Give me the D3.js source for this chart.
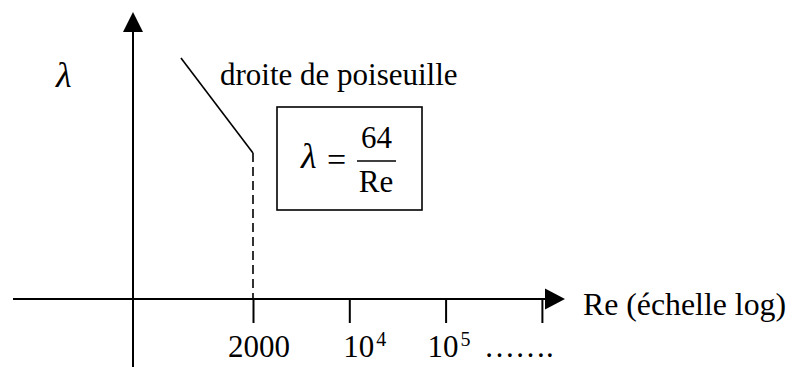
<!DOCTYPE html>
<html>
<head>
<meta charset="utf-8">
<script src="https://cdn.jsdelivr.net/npm/d3@7"></script>
<style>
  body { margin: 0; background: #fff; }
  text { font-family: "Liberation Serif", "Times New Roman", serif; fill: #000; }
</style>
</head>
<body>
<svg id="chart" width="797" height="367"></svg>
<script>
// Reynolds numbers marked on the horizontal (log) axis
const tickValues = [2000, 1e4, 1e5, 1e6];
const tickBases = ["2000", "10", "10", ""];
const tickExponents = ["", "4", "5", ""];
const trailingLabel = "…….";

// Poiseuille (laminar) branch: lambda = 64 / Re, up to the critical Re
const poiseuilleCoef = 64;
const poiseuilleRe = [600, 2000];
const criticalRe = 2000;

// Text
const yLabel = "λ";
const xLabel = "Re (échelle log)";
const lineLabel = "droite de poiseuille";

// ---- layout ----
const svg = d3.select("#chart");
const axisY = 299;
const originX = 133;
const fontSize = 31;
const lambdaSize = 36;
const labelDx = [-25, -6, -18, 0]; // where each tick label starts, relative to its tick

// Equal spacing between the marked Reynolds numbers
const x = d3.scaleLog()
  .domain(tickValues)
  .range(tickValues.map((d, i) => 253 + i * 96.3));

const lambda = re => poiseuilleCoef / re;
const y = d3.scaleLog()
  .domain([lambda(poiseuilleRe[1]), lambda(poiseuilleRe[0])])
  .range([153, 58]);

// Axes lines
svg.append("line")
  .attr("x1", 13).attr("x2", 546)
  .attr("y1", axisY).attr("y2", axisY)
  .attr("stroke", "#000").attr("stroke-width", 2);
svg.append("path")
  .attr("d", `M545,${axisY - 10.5} L565,${axisY} L545,${axisY + 10.5} Z`)
  .attr("fill", "#000");

svg.append("line")
  .attr("x1", originX).attr("x2", originX)
  .attr("y1", 367).attr("y2", 30)
  .attr("stroke", "#000").attr("stroke-width", 2);
svg.append("path")
  .attr("d", `M${originX - 10},32 L${originX},12 L${originX + 10},32 Z`)
  .attr("fill", "#000");

// Tick marks
const axis = d3.axisBottom(x)
  .tickValues(tickValues)
  .tickSize(24)
  .tickFormat("");
const gx = svg.append("g")
  .attr("transform", `translate(0,${axisY})`)
  .call(axis);
gx.select(".domain").remove();
gx.selectAll(".tick line").attr("stroke", "#000").attr("stroke-width", 2);

// Tick labels with powers of ten
tickValues.forEach((v, i) => {
  if (!tickBases[i]) return;
  const t = svg.append("text")
    .attr("x", x(v) + labelDx[i])
    .attr("y", 357)
    .attr("font-size", fontSize);
  t.append("tspan").text(tickBases[i]);
  if (tickExponents[i]) {
    t.append("tspan")
      .attr("dx", 2)
      .attr("dy", -11)
      .attr("font-size", 20)
      .text(tickExponents[i]);
  }
});
svg.append("text")
  .attr("x", 484).attr("y", 357)
  .attr("font-size", fontSize)
  .text(trailingLabel);

// Axis titles
svg.append("text")
  .attr("x", 583).attr("y", 315)
  .attr("font-size", 31.8)
  .text(xLabel);
svg.append("text")
  .attr("x", 56).attr("y", 87)
  .attr("font-size", lambdaSize)
  .attr("font-style", "italic")
  .text(yLabel);

// Poiseuille line
const line = d3.line()
  .x(d => x(d))
  .y(d => y(lambda(d)));
svg.append("path")
  .datum(poiseuilleRe)
  .attr("d", line)
  .attr("fill", "none")
  .attr("stroke", "#000")
  .attr("stroke-width", 1.6);

// Dashed drop at the critical Reynolds number
svg.append("line")
  .attr("x1", x(criticalRe)).attr("x2", x(criticalRe))
  .attr("y1", y(lambda(criticalRe))).attr("y2", axisY)
  .attr("stroke", "#000")
  .attr("stroke-width", 1.6)
  .attr("stroke-dasharray", "9,5");

svg.append("text")
  .attr("x", 220).attr("y", 85)
  .attr("font-size", fontSize)
  .text(lineLabel);

// Formula box: lambda = 64 / Re
svg.append("rect")
  .attr("x", 277).attr("y", 107)
  .attr("width", 145).attr("height", 103)
  .attr("fill", "none")
  .attr("stroke", "#000")
  .attr("stroke-width", 1.6);

svg.append("text")
  .attr("x", 301).attr("y", 168)
  .attr("font-size", lambdaSize)
  .attr("font-style", "italic")
  .text(yLabel);
svg.append("text")
  .attr("x", 327).attr("y", 171)
  .attr("font-size", 34)
  .text("=");
svg.append("line")
  .attr("x1", 357).attr("x2", 396)
  .attr("y1", 161).attr("y2", 161)
  .attr("stroke", "#000").attr("stroke-width", 1.6);
svg.append("text")
  .attr("x", 376.5).attr("y", 148)
  .attr("text-anchor", "middle")
  .attr("font-size", fontSize)
  .text(String(poiseuilleCoef));
svg.append("text")
  .attr("x", 376).attr("y", 192)
  .attr("text-anchor", "middle")
  .attr("font-size", fontSize)
  .text("Re");
</script>
</body>
</html>
